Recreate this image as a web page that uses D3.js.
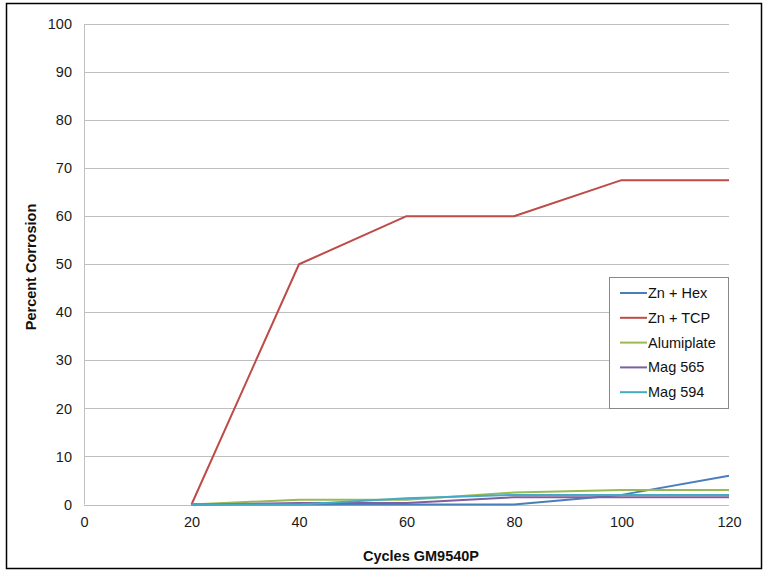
<!DOCTYPE html>
<html>
<head>
<meta charset="utf-8">
<script src="https://cdn.jsdelivr.net/npm/d3@7"></script>
<style>
  html, body { margin: 0; padding: 0; background: #fff; }
  svg { display: block; font-family: "Liberation Sans", Arial, sans-serif; }
</style>
</head>
<body>
<svg id="chart" width="767" height="571"></svg>
<script>
// Corrosion progress per coating over GM9540P cycles
const cycles = [20, 40, 60, 80, 100, 120];
const seriesNames = ["Zn + Hex", "Zn + TCP", "Alumiplate", "Mag 565", "Mag 594"];
const znHex      = [0, 0, 0, 0, 2, 6];
const znTcp      = [0, 50, 60, 60, 67.5, 67.5];
const alumiplate = [0, 1, 1, 2.5, 3, 3];
const mag565     = [0, 0.3, 0.3, 1.5, 1.5, 1.5];
const mag594     = [0, 0, 1.3, 2, 2, 2];
const xTicks = [0, 20, 40, 60, 80, 100, 120];
const yTicks = [0, 10, 20, 30, 40, 50, 60, 70, 80, 90, 100];
const colors = ["#4A7EBB", "#BE4B48", "#98B954", "#7D60A0", "#46AAC5"];

const seriesValues = [znHex, znTcp, alumiplate, mag565, mag594];
const series = seriesNames.map((name, i) => ({
  name, color: colors[i],
  points: cycles.map((c, j) => ({ x: c, y: seriesValues[i][j] }))
}));

const svg = d3.select("#chart");
const plot = { left: 84, right: 729, top: 24, bottom: 504.5 };
const fontSize = 14.5;

// outer frame
svg.append("rect").attr("x", 6.5).attr("y", 3.5).attr("width", 755).attr("height", 565)
  .attr("fill", "#fff").attr("stroke", "#000").attr("stroke-width", 1.5);

const x = d3.scaleLinear().domain([0, 120]).range([plot.left, plot.right]);
const y = d3.scaleLinear().domain([0, 100]).range([plot.bottom, plot.top]);

// horizontal gridlines
svg.append("g").selectAll("line").data(yTicks).join("line")
  .attr("x1", plot.left).attr("x2", plot.right)
  .attr("y1", d => Math.round(y(d)) + 0.5).attr("y2", d => Math.round(y(d)) + 0.5)
  .attr("stroke", "#BFBFBF").attr("stroke-width", 1);

// vertical axis line
svg.append("line").attr("x1", plot.left + 0.5).attr("x2", plot.left + 0.5)
  .attr("y1", plot.top).attr("y2", plot.bottom)
  .attr("stroke", "#BFBFBF");

// y axis labels
const yAxis = d3.axisLeft(y).tickValues(yTicks).tickSize(0).tickPadding(12);
const gy = svg.append("g").attr("transform", `translate(${plot.left},0)`).call(yAxis);
gy.select(".domain").remove();
gy.selectAll("text").attr("font-size", fontSize).attr("fill", "#1a1a1a")
  .attr("font-family", "Liberation Sans, Arial, sans-serif");

// x axis labels
const xAxis = d3.axisBottom(x).tickValues(xTicks).tickSize(0).tickPadding(12);
const gx = svg.append("g").attr("transform", `translate(0,${plot.bottom})`).call(xAxis);
gx.select(".domain").remove();
gx.selectAll("text").attr("font-size", fontSize).attr("fill", "#1a1a1a")
  .attr("font-family", "Liberation Sans, Arial, sans-serif");

// axis titles
svg.append("text").attr("x", 421).attr("y", 561).attr("text-anchor", "middle")
  .attr("font-size", fontSize).attr("font-weight", "bold").attr("fill", "#111")
  .text("Cycles GM9540P");
svg.append("text").attr("transform", "translate(36,267) rotate(-90)")
  .attr("text-anchor", "middle").attr("font-size", fontSize).attr("font-weight", "bold")
  .attr("fill", "#111").text("Percent Corrosion");

// series lines
const line = d3.line().x(d => x(d.x)).y(d => y(d.y));
svg.append("g").selectAll("path").data(series).join("path")
  .attr("d", d => line(d.points))
  .attr("fill", "none").attr("stroke", d => d.color)
  .attr("stroke-width", 2).attr("stroke-linejoin", "round");

// legend
const lg = svg.append("g");
lg.append("rect").attr("x", 609.5).attr("y", 277.5).attr("width", 119).attr("height", 131)
  .attr("fill", "#fff").attr("stroke", "#888").attr("stroke-width", 1);
const items = lg.selectAll("g.item").data(series).join("g")
  .attr("class", "item")
  .attr("transform", (d, i) => `translate(0,${293 + i * 24.8})`);
items.append("line").attr("x1", 620).attr("x2", 647).attr("y1", 0).attr("y2", 0)
  .attr("stroke", d => d.color).attr("stroke-width", 2);
items.append("text").attr("x", 648).attr("y", 0).attr("dy", "0.35em")
  .attr("font-size", fontSize).attr("fill", "#111").text(d => d.name);
</script>
</body>
</html>
